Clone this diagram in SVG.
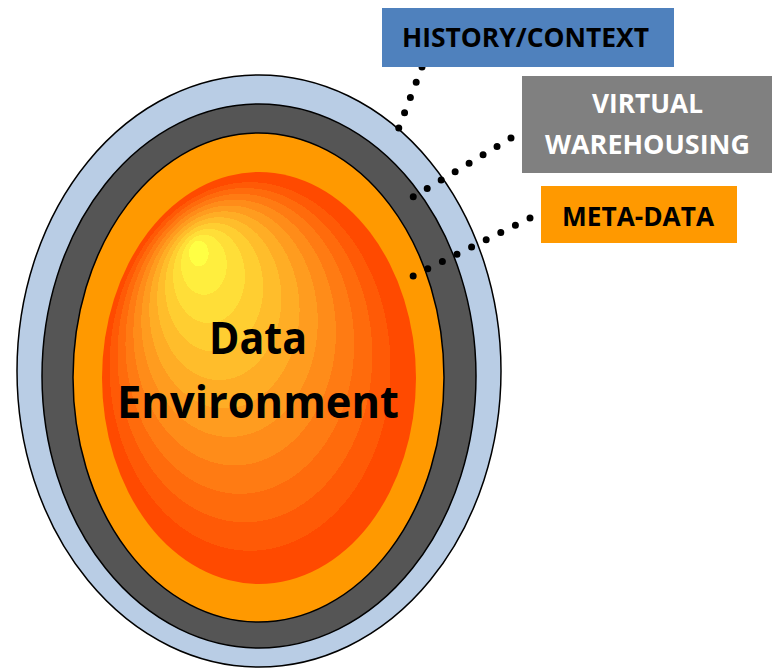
<svg xmlns="http://www.w3.org/2000/svg" width="773" height="669" viewBox="0 0 773 669">
<style>
.ring{stroke:#000;stroke-width:1.5}
.lbl{font-family:"Open Sans","Liberation Sans",sans-serif;font-weight:bold;text-anchor:middle}
.dots{fill:none;stroke:#000;stroke-width:7;stroke-linecap:round;stroke-dasharray:0 16.3}
</style>
<defs>
<radialGradient id="core" cx="0.5" cy="0.52" r="0.52" fx="0.296" fy="0.177">
<stop offset="0" stop-color="#FFFF44"/><stop offset="0.06" stop-color="#FFFF44"/>
<stop offset="0.06" stop-color="#FFEE3E"/><stop offset="0.14" stop-color="#FFEE3E"/>
<stop offset="0.14" stop-color="#FFDE38"/><stop offset="0.22" stop-color="#FFDE38"/>
<stop offset="0.22" stop-color="#FFCE31"/><stop offset="0.30" stop-color="#FFCE31"/>
<stop offset="0.30" stop-color="#FFBD2B"/><stop offset="0.38" stop-color="#FFBD2B"/>
<stop offset="0.38" stop-color="#FFAD25"/><stop offset="0.46" stop-color="#FFAD25"/>
<stop offset="0.46" stop-color="#FF9C1F"/><stop offset="0.54" stop-color="#FF9C1F"/>
<stop offset="0.54" stop-color="#FF8C19"/><stop offset="0.62" stop-color="#FF8C19"/>
<stop offset="0.62" stop-color="#FF7B13"/><stop offset="0.70" stop-color="#FF7B13"/>
<stop offset="0.70" stop-color="#FF6B0C"/><stop offset="0.78" stop-color="#FF6B0C"/>
<stop offset="0.78" stop-color="#FF5A06"/><stop offset="0.86" stop-color="#FF5A06"/>
<stop offset="0.86" stop-color="#FF4A00"/><stop offset="1" stop-color="#FF4A00"/>
</radialGradient>
</defs>
<rect width="773" height="669" fill="#fff"/>
<g id="history-ring"><ellipse class="ring" cx="259" cy="371" rx="242" ry="296" fill="#B9CDE5"/></g>
<g id="warehousing-ring"><ellipse class="ring" cx="259" cy="376" rx="217" ry="272" fill="#555555"/></g>
<g id="metadata-ring"><ellipse class="ring" cx="258.5" cy="377.5" rx="185.5" ry="244.5" fill="#FF9900"/></g>
<g id="data-environment">
<ellipse cx="259" cy="378" rx="157" ry="206" fill="url(#core)"/>
<text class="lbl" x="258" y="354" font-size="45" fill="#000" textLength="98" lengthAdjust="spacingAndGlyphs">Data</text>
<text class="lbl" x="258" y="418" font-size="45" fill="#000" textLength="282" lengthAdjust="spacingAndGlyphs">Environment</text>
</g>
<g id="connectors">
<line class="dots" x1="422" y1="67" x2="393" y2="143"/>
<line class="dots" x1="511" y1="138" x2="413" y2="197"/>
<line class="dots" x1="530" y1="218" x2="413" y2="276"/>
</g>
<g id="history-context">
<rect x="382" y="8" width="292" height="59" fill="#4F81BD"/>
<text class="lbl" x="525.5" y="47" font-size="27" fill="#000" textLength="247" lengthAdjust="spacingAndGlyphs">HISTORY/CONTEXT</text>
</g>
<g id="virtual-warehousing">
<rect x="522" y="76" width="250" height="97" fill="#808080"/>
<text class="lbl" x="647.5" y="113" font-size="26" fill="#fff" textLength="111" lengthAdjust="spacingAndGlyphs">VIRTUAL</text>
<text class="lbl" x="647.5" y="154" font-size="26" fill="#fff" textLength="205" lengthAdjust="spacingAndGlyphs">WAREHOUSING</text>
</g>
<g id="meta-data">
<rect x="541" y="186" width="196" height="57" fill="#FF9900"/>
<text class="lbl" x="638" y="226" font-size="27" fill="#000" textLength="152" lengthAdjust="spacingAndGlyphs">META-DATA</text>
</g>
</svg>
